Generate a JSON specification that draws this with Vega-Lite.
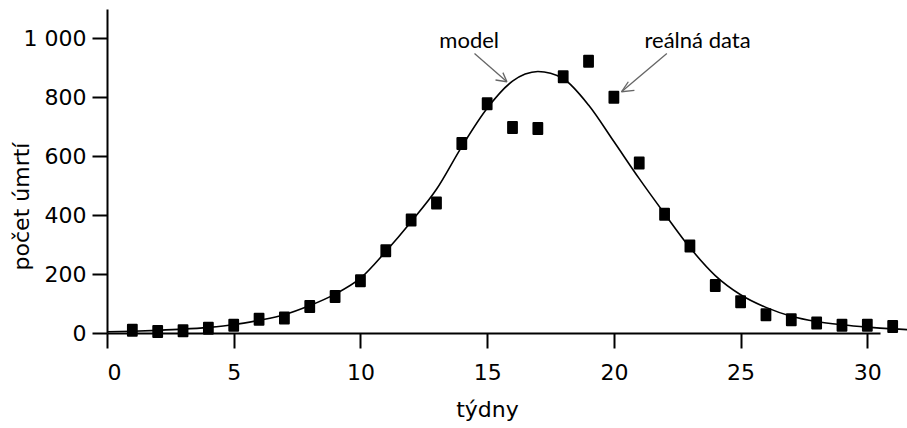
{
  "$schema": "https://vega.github.io/schema/vega-lite/v6.json",
  "autosize": {"type": "none"},
  "width": 773,
  "height": 324,
  "padding": {"left": 107, "top": 9, "right": 27, "bottom": 95},
  "background": "white",
  "config": {
    "view": {"stroke": null},
    "axis": {
      "grid": false,
      "domainColor": "black",
      "domainWidth": 2,
      "tickColor": "black",
      "tickWidth": 2,
      "tickSize": 15,
      "labelFont": "DejaVu Sans",
      "labelFontSize": 22,
      "labelColor": "black",
      "titleFont": "DejaVu Sans",
      "titleFontSize": 22,
      "titleFontWeight": "normal",
      "titleColor": "black"
    }
  },
  "datasets": {
    "deaths": [
      {"week": 1, "deaths": 9}, {"week": 2, "deaths": 5}, {"week": 3, "deaths": 8},
      {"week": 4, "deaths": 16}, {"week": 5, "deaths": 26}, {"week": 6, "deaths": 47},
      {"week": 7, "deaths": 51}, {"week": 8, "deaths": 90}, {"week": 9, "deaths": 124},
      {"week": 10, "deaths": 177}, {"week": 11, "deaths": 279}, {"week": 12, "deaths": 384},
      {"week": 13, "deaths": 441}, {"week": 14, "deaths": 643}, {"week": 15, "deaths": 778},
      {"week": 16, "deaths": 698}, {"week": 17, "deaths": 694}, {"week": 18, "deaths": 870},
      {"week": 19, "deaths": 923}, {"week": 20, "deaths": 800}, {"week": 21, "deaths": 577},
      {"week": 22, "deaths": 403}, {"week": 23, "deaths": 295}, {"week": 24, "deaths": 161},
      {"week": 25, "deaths": 106}, {"week": 26, "deaths": 62}, {"week": 27, "deaths": 45},
      {"week": 28, "deaths": 34}, {"week": 29, "deaths": 26}, {"week": 30, "deaths": 26},
      {"week": 31, "deaths": 22}
    ],
    "model": [
      {"week": 0, "deaths": 4}, {"week": 1, "deaths": 6}, {"week": 2, "deaths": 9},
      {"week": 3, "deaths": 13}, {"week": 4, "deaths": 19}, {"week": 5, "deaths": 28},
      {"week": 6, "deaths": 43}, {"week": 7, "deaths": 62}, {"week": 8, "deaths": 93},
      {"week": 9, "deaths": 132}, {"week": 10, "deaths": 186}, {"week": 11, "deaths": 277},
      {"week": 12, "deaths": 378}, {"week": 13, "deaths": 488}, {"week": 14, "deaths": 633},
      {"week": 15, "deaths": 763}, {"week": 16, "deaths": 855}, {"week": 16.5, "deaths": 879},
      {"week": 17, "deaths": 888}, {"week": 17.5, "deaths": 882}, {"week": 18, "deaths": 864},
      {"week": 19, "deaths": 774}, {"week": 20, "deaths": 650}, {"week": 21, "deaths": 524},
      {"week": 22, "deaths": 405}, {"week": 23, "deaths": 290}, {"week": 24, "deaths": 195},
      {"week": 25, "deaths": 130}, {"week": 26, "deaths": 87}, {"week": 27, "deaths": 57},
      {"week": 28, "deaths": 39}, {"week": 29, "deaths": 28}, {"week": 30, "deaths": 20},
      {"week": 31, "deaths": 14}, {"week": 32, "deaths": 10}
    ],
    "arrows": [
      {"x": 14.5, "y": 949, "x2": 15.78, "y2": 853},
      {"x": 15.33, "y": 859, "x2": 15.78, "y2": 853},
      {"x": 15.62, "y": 884, "x2": 15.78, "y2": 853},
      {"x": 22.09, "y": 949, "x2": 20.3, "y2": 819},
      {"x": 20.57, "y": 853, "x2": 20.3, "y2": 819},
      {"x": 20.81, "y": 824, "x2": 20.3, "y2": 819}
    ],
    "labels": [
      {"x": 14.29, "y": 967, "text": "model"},
      {"x": 23.3, "y": 967, "text": "reálná data"}
    ]
  },
  "layer": [
    {
      "data": {"name": "model"},
      "mark": {"type": "line", "color": "black", "strokeWidth": 1.6, "interpolate": "monotone"},
      "encoding": {
        "x": {
          "field": "week", "type": "quantitative",
          "scale": {"domain": [0, 30.5], "nice": false, "zero": false},
          "axis": {"values": [0, 5, 10, 15, 20, 25, 30], "title": "týdny", "labelPadding": 14, "titleY": 66, "titleX": 380}
        },
        "y": {
          "field": "deaths", "type": "quantitative",
          "scale": {"domain": [0, 1100], "nice": false},
          "axis": {
            "values": [0, 200, 400, 600, 800, 1000],
            "labelExpr": "replace(format(datum.value, ','), ',', ' ')",
            "labelPadding": 6,
            "title": "počet úmrtí",
            "titleX": -74,
            "titleY": 197
          }
        }
      }
    },
    {
      "data": {"name": "deaths"},
      "mark": {
        "type": "point",
        "shape": "M-0.8,-1L0.8,-1L0.8,1L-0.8,1Z",
        "size": 121,
        "filled": true,
        "color": "black",
        "opacity": 1,
        "stroke": "black",
        "strokeWidth": 2,
        "strokeJoin": "round"
      },
      "encoding": {
        "x": {"field": "week", "type": "quantitative"},
        "y": {"field": "deaths", "type": "quantitative"}
      }
    },
    {
      "data": {"name": "arrows"},
      "mark": {"type": "rule", "color": "#666666", "strokeWidth": 1.3},
      "encoding": {
        "x": {"field": "x", "type": "quantitative"},
        "y": {"field": "y", "type": "quantitative"},
        "x2": {"field": "x2"},
        "y2": {"field": "y2"}
      }
    },
    {
      "data": {"name": "labels"},
      "mark": {"type": "text", "font": "Lato", "fontSize": 22, "color": "black", "baseline": "alphabetic", "align": "center"},
      "encoding": {
        "x": {"field": "x", "type": "quantitative"},
        "y": {"field": "y", "type": "quantitative"},
        "text": {"field": "text"}
      }
    }
  ]
}
